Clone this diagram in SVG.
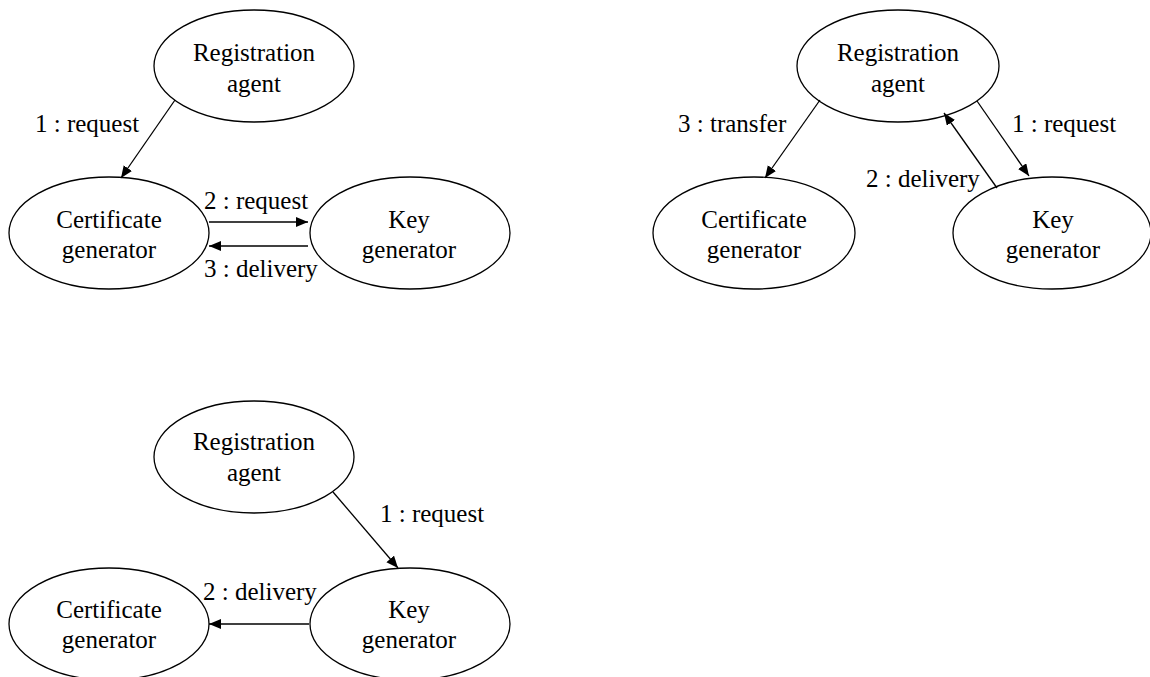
<svg xmlns="http://www.w3.org/2000/svg" width="1150" height="677" viewBox="0 0 1150 677">
<defs>
<style>
.node ellipse{fill:none;stroke:#000;stroke-width:1.3}
text{font-family:"Liberation Serif","Times New Roman",serif;font-size:25px;fill:#000}
.node text{text-anchor:middle}
.edges line{stroke:#000;stroke-width:1.3;marker-end:url(#arr)}
</style>
<marker id="arr" markerUnits="userSpaceOnUse" markerWidth="13" markerHeight="11" refX="12" refY="5" orient="auto" viewBox="0 0 13 11">
<path d="M0,0 L12,5 L0,10 z" fill="#000"/>
</marker>
</defs>
<rect width="1150" height="677" fill="#fff"/>

<!-- Diagram 1 -->
<g id="d1-reg" class="node"><ellipse cx="254" cy="66" rx="100" ry="56"/><text x="254" y="61">Registration</text><text x="254" y="92">agent</text></g>
<g id="d1-cert" class="node"><ellipse cx="109" cy="233" rx="100" ry="56"/><text x="109" y="228">Certificate</text><text x="109" y="258">generator</text></g>
<g id="d1-key" class="node"><ellipse cx="410" cy="233" rx="100" ry="56"/><text x="409" y="228">Key</text><text x="409" y="258">generator</text></g>

<!-- Diagram 2 -->
<g id="d2-reg" class="node"><ellipse cx="898" cy="66" rx="101" ry="56"/><text x="898" y="61">Registration</text><text x="898" y="92">agent</text></g>
<g id="d2-cert" class="node"><ellipse cx="754" cy="233" rx="101" ry="56"/><text x="754" y="228">Certificate</text><text x="754" y="258">generator</text></g>
<g id="d2-key" class="node"><ellipse cx="1052" cy="233" rx="99" ry="56"/><text x="1053" y="228">Key</text><text x="1053" y="258">generator</text></g>

<!-- Diagram 3 -->
<g id="d3-reg" class="node"><ellipse cx="254" cy="457" rx="100" ry="56"/><text x="254" y="450">Registration</text><text x="254" y="481">agent</text></g>
<g id="d3-cert" class="node"><ellipse cx="109" cy="624" rx="100" ry="56"/><text x="109" y="618">Certificate</text><text x="109" y="648">generator</text></g>
<g id="d3-key" class="node"><ellipse cx="410" cy="624" rx="100" ry="56"/><text x="409" y="618">Key</text><text x="409" y="648">generator</text></g>

<g id="connectors" class="edges">
<line x1="175" y1="100" x2="121" y2="178"/>
<line x1="209" y1="222" x2="308" y2="222"/>
<line x1="308" y1="246" x2="209" y2="246"/>
<line x1="820" y1="100" x2="765" y2="178"/>
<line x1="977" y1="101" x2="1029" y2="176"/>
<line x1="997" y1="188" x2="944" y2="113"/>
<line x1="333" y1="492" x2="398" y2="568"/>
<line x1="309" y1="624" x2="209" y2="624"/>
</g>
<g id="labels">
<text x="35" y="132">1 : request</text>
<text x="204" y="209">2 : request</text>
<text x="204" y="277">3 : delivery</text>
<text x="678" y="132">3 : transfer</text>
<text x="1012" y="132">1 : request</text>
<text x="866" y="187">2 : delivery</text>
<text x="380" y="522">1 : request</text>
<text x="203" y="600">2 : delivery</text>
</g>
</svg>
